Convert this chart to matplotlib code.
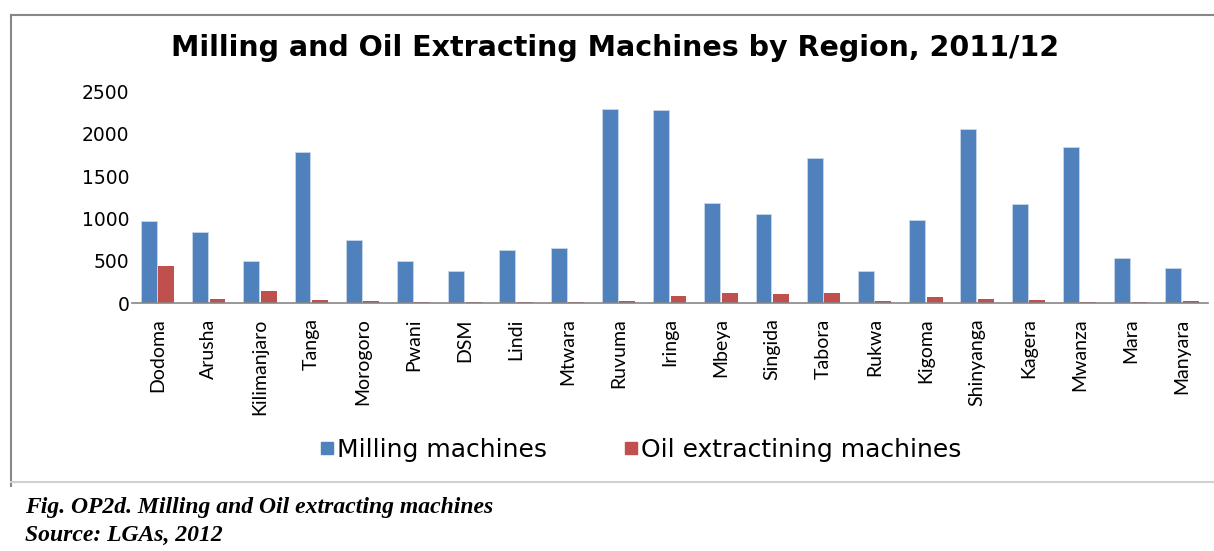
import matplotlib
matplotlib.use("Agg")
import matplotlib.pyplot as plt
import numpy as np
from matplotlib.lines import Line2D

regions = ["Dodoma", "Arusha", "Kilimanjaro", "Tanga", "Morogoro", "Pwani", "DSM",
           "Lindi", "Mtwara", "Ruvuma", "Iringa", "Mbeya", "Singida", "Tabora",
           "Rukwa", "Kigoma", "Shinyanga", "Kagera", "Mwanza", "Mara", "Manyara"]
milling = [970, 838, 496, 1787, 740, 496, 385, 630, 653, 2298, 2287, 1181,
           1058, 1712, 385, 984, 2055, 1169, 1846, 531, 420]
oil = [444, 51, 142, 39, 27, 15, 15, 15, 15, 27, 78, 118, 102, 118, 27, 66,
       51, 39, 15, 15, 27]
yticks = [0, 500, 1000, 1500, 2000, 2500]

blue = "#4F81BD"
red = "#C0504D"

fig = plt.figure(figsize=(12.14, 5.51), dpi=100)
ax = fig.add_axes([0.1087, 0.450, 0.886, 0.3836])

x = np.arange(len(regions))
w = 0.31
ax.bar(x - 0.17, milling, w, color=blue, edgecolor="#C9D7EA", linewidth=0.6)
ax.bar(x + 0.17, oil, w, color=red, linewidth=0)

ax.set_xlim(-0.5, len(regions) - 0.5)
ax.set_ylim(0, 2500)
ax.set_yticks(yticks)
ax.set_yticklabels([str(v) for v in yticks], fontsize=13.5, family="DejaVu Sans")
ax.set_xticks(x)
ax.set_xticklabels(regions, rotation=90, fontsize=14, family="Lato")
ax.tick_params(axis="y", length=0, pad=2)
ax.tick_params(axis="x", length=0, pad=11)
for s in ["top", "right", "left"]:
    ax.spines[s].set_visible(False)
ax.spines["bottom"].set_color("#868686")
ax.spines["bottom"].set_linewidth(1.2)

fig.text(0.507, 0.913, "Milling and Oil Extracting Machines by Region, 2011/12",
         ha="center", va="center", fontsize=20.5, fontweight="bold", family="DejaVu Sans")

handles = [Line2D([], [], marker="s", linestyle="", color=blue, markersize=9),
           Line2D([], [], marker="s", linestyle="", color=red, markersize=9)]
fig.legend(handles, ["Milling machines", "Oil extractining machines"],
           loc="center", bbox_to_anchor=(0.527, 0.183), ncol=2, frameon=False,
           fontsize=18, handletextpad=0.05, columnspacing=3.0, handlelength=0.7)

# chart border
fig.add_artist(Line2D([11 / 1214, 1.0], [1 - 15 / 551, 1 - 15 / 551],
                      transform=fig.transFigure, color="#878787", linewidth=1.5))
fig.add_artist(Line2D([11 / 1214, 11 / 1214], [1 - 15 / 551, 1 - 486 / 551],
                      transform=fig.transFigure, color="#878787", linewidth=1.5))
fig.add_artist(Line2D([11 / 1214, 1.0], [1 - 482 / 551, 1 - 482 / 551],
                      transform=fig.transFigure, color="#D0D0D0", linewidth=1.5))

fig.text(25 / 1214, 1 - 508 / 551, "Fig. OP2d. Milling and Oil extracting machines",
         ha="left", va="center", fontsize=17, fontweight="bold", style="italic",
         family="Liberation Serif")
fig.text(25 / 1214, 1 - 535 / 551, "Source: LGAs, 2012",
         ha="left", va="center", fontsize=17, fontweight="bold", style="italic",
         family="Liberation Serif")

fig.savefig("out.png", dpi=100)
